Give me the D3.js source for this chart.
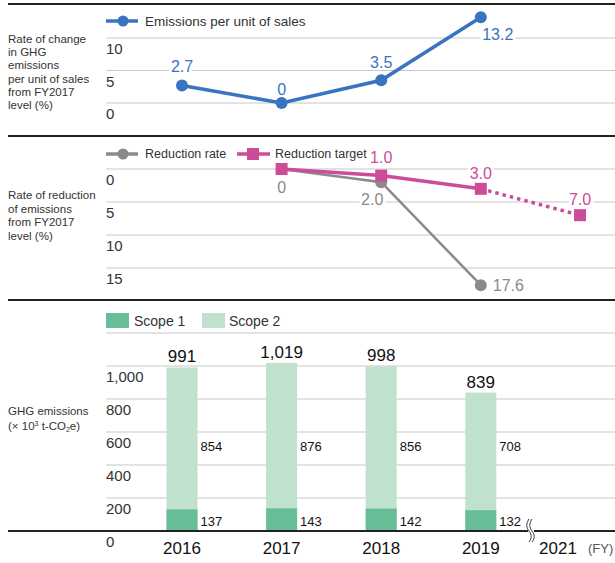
<!DOCTYPE html>
<html>
<head>
<meta charset="utf-8">
<script src="https://cdn.jsdelivr.net/npm/d3@7"></script>
<style>
  body { margin: 0; background: #fff; }
  svg { font-family: "Liberation Sans", Arial, sans-serif; }
</style>
</head>
<body>
<div id="chart"></div>
<script>
// ---- data ----
const years = ["2016", "2017", "2018", "2019", "2021"];
const yearLabels = ["2016", "2017", "2018", "2019", "2021"];

const salesYears = ["2016", "2017", "2018", "2019"];
const salesValues = [2.7, 0, 3.5, 13.2];
const salesTicks = [0, 5, 10];

const rateYears = ["2017", "2018", "2019"];
const rateValues = [0, 2.0, 17.6];
const targetYears = ["2017", "2018", "2019", "2021"];
const targetValues = [0, 1.0, 3.0, 7.0];
const reductionTicks = [0, 5, 10, 15];

const barYears = ["2016", "2017", "2018", "2019"];
const scope1 = [137, 143, 142, 132];
const scope2 = [854, 876, 856, 708];
const totals = [991, 1019, 998, 839];
const ghgTicks = [0, 200, 400, 600, 800, 1000];

const blue = "#3a73c0", gray = "#8a8a8a", pink = "#cc4c98";
const green1 = "#66bd96", green2 = "#bfe1cd", grid = "#c8c8c8", ink = "#222";

const W = 615, H = 563;
const svg = d3.select("#chart").append("svg").attr("width", W).attr("height", H);

const x = d3.scalePoint().domain(years).range([182, 580]);
// put 2016..2019 evenly spaced, 2021 after the break
const xPos = d => d === "2021" ? 580 : 182 + (+d - 2016) * 99.6;

const fmt = d3.format(",");

// panel separators
[[4, 2], [136, 2], [300, 2]].forEach(([yy, w]) => {
  svg.append("line").attr("x1", 8).attr("x2", W).attr("y1", yy).attr("y2", yy)
    .attr("stroke", ink).attr("stroke-width", w);
});

function leftLabel(lines, y0, size, lh) {
  const t = svg.append("text").attr("x", 8).attr("y", y0)
    .attr("font-size", size).attr("fill", "#333");
  lines.forEach((l, i) => t.append("tspan").attr("x", 8).attr("dy", i ? lh : 0).text(l));
  return t;
}

function gridAxis(scale, ticks, fmtf, size) {
  const g = svg.append("g");
  ticks.forEach(v => {
    g.append("line").attr("x1", 106).attr("x2", W)
      .attr("y1", scale(v)).attr("y2", scale(v))
      .attr("stroke", grid).attr("stroke-width", 1.2);
  });
  ticks.forEach(v => {
    g.append("text").attr("x", 106).attr("y", scale(v) + 16)
      .attr("font-size", size).attr("fill", "#333").text(fmtf(v));
  });
  return g;
}

// ---- panel 1: emissions per unit of sales ----
const y1 = d3.scaleLinear().domain([0, 10]).range([103, 38]);
gridAxis(y1, salesTicks, d => d, 15);
leftLabel(["Rate of change", "in GHG", "emissions", "per unit of sales", "from FY2017", "level (%)"], 43, 11.5, 13.2);

svg.append("line").attr("x1", 106).attr("x2", 138).attr("y1", 21).attr("y2", 21)
  .attr("stroke", blue).attr("stroke-width", 3.5);
svg.append("circle").attr("cx", 123).attr("cy", 21).attr("r", 5.5).attr("fill", blue);
svg.append("text").attr("x", 145).attr("y", 26).attr("font-size", 13.5).attr("fill", "#333")
  .text("Emissions per unit of sales");

const salesPts = salesYears.map((d, i) => ({ x: xPos(d), y: y1(salesValues[i]), v: salesValues[i] }));
svg.append("path").datum(salesPts)
  .attr("d", d3.line().x(d => d.x).y(d => d.y))
  .attr("fill", "none").attr("stroke", blue).attr("stroke-width", 3.5);
svg.selectAll(".sp").data(salesPts).enter().append("circle")
  .attr("cx", d => d.x).attr("cy", d => d.y).attr("r", 6).attr("fill", blue);

const salesLab = [[0, -13], [0, -8], [0, -12], [17, 23]];
salesPts.forEach((d, i) => {
  const t = svg.append("text").attr("x", d.x + salesLab[i][0]).attr("y", d.y + salesLab[i][1])
    .attr("text-anchor", "middle").attr("font-size", 16).attr("fill", blue)
    .text(d.v % 1 === 0 && d.v === 0 ? "0" : d.v.toFixed(1));
  if (i === 0 || i === 3) t.attr("stroke", "#fff").attr("stroke-width", 6).attr("paint-order", "stroke");
});

// ---- panel 2: reduction rate ----
const y2 = d3.scaleLinear().domain([0, 15]).range([169, 268]);
gridAxis(y2, reductionTicks, d => d, 15);
leftLabel(["Rate of reduction", "of emissions", "from FY2017", "level (%)"], 199, 11.5, 13.5);

svg.append("line").attr("x1", 106).attr("x2", 138).attr("y1", 154).attr("y2", 154)
  .attr("stroke", gray).attr("stroke-width", 3.5);
svg.append("circle").attr("cx", 123).attr("cy", 154).attr("r", 5.5).attr("fill", gray);
svg.append("text").attr("x", 145).attr("y", 158).attr("font-size", 12.5).attr("fill", "#333").text("Reduction rate");
svg.append("line").attr("x1", 237).attr("x2", 270).attr("y1", 154).attr("y2", 154)
  .attr("stroke", pink).attr("stroke-width", 3.5);
svg.append("rect").attr("x", 247).attr("y", 148).attr("width", 12).attr("height", 12).attr("fill", pink);
svg.append("text").attr("x", 275).attr("y", 158).attr("font-size", 12.5).attr("fill", "#333").text("Reduction target");

const ratePts = rateYears.map((d, i) => ({ x: xPos(d), y: y2(rateValues[i]), v: rateValues[i] }));
const tgtPts = targetYears.map((d, i) => ({ x: xPos(d), y: y2(targetValues[i]), v: targetValues[i] }));
const line = d3.line().x(d => d.x).y(d => d.y);

svg.append("path").datum(ratePts).attr("d", line)
  .attr("fill", "none").attr("stroke", gray).attr("stroke-width", 2.5);
svg.selectAll(".rp").data(ratePts).enter().append("circle")
  .attr("cx", d => d.x).attr("cy", d => d.y).attr("r", 6).attr("fill", gray);

svg.append("path").datum(tgtPts.slice(0, 3)).attr("d", line)
  .attr("fill", "none").attr("stroke", pink).attr("stroke-width", 3.5);
svg.append("path").datum(tgtPts.slice(2)).attr("d", line)
  .attr("fill", "none").attr("stroke", pink).attr("stroke-width", 3.5)
  .attr("stroke-dasharray", "3.5,4");
svg.selectAll(".tp").data(tgtPts).enter().append("rect")
  .attr("x", d => d.x - 6).attr("y", d => d.y - 6)
  .attr("width", 12).attr("height", 12).attr("fill", pink);

// labels
svg.append("text").attr("x", ratePts[0].x).attr("y", ratePts[0].y + 24).attr("text-anchor", "middle")
  .attr("font-size", 16).attr("fill", gray).text("0");
svg.append("text").attr("x", ratePts[1].x - 9).attr("y", ratePts[1].y + 23).attr("text-anchor", "middle")
  .attr("font-size", 16).attr("fill", gray).attr("stroke", "#fff").attr("stroke-width", 6)
  .attr("paint-order", "stroke").text(rateValues[1].toFixed(1));
svg.append("text").attr("x", ratePts[2].x + 12).attr("y", ratePts[2].y + 6)
  .attr("font-size", 16).attr("fill", gray).text(rateValues[2].toFixed(1));

const tgtLab = [null, [0, -13], [0, -10], [0, -10]];
tgtPts.forEach((d, i) => {
  if (!tgtLab[i]) return;
  svg.append("text").attr("x", d.x + tgtLab[i][0]).attr("y", d.y + tgtLab[i][1])
    .attr("text-anchor", "middle").attr("font-size", 16).attr("fill", pink)
    .attr("stroke", "#fff").attr("stroke-width", 6).attr("paint-order", "stroke")
    .text(d.v.toFixed(1));
});

// ---- panel 3: GHG emissions bars ----
const y3 = d3.scaleLinear().domain([0, 1200]).range([531, 333]);
gridAxis(y3, [200, 400, 600, 800, 1000, 1200].slice(0, 5), fmt, 15);
svg.append("line").attr("x1", 106).attr("x2", W).attr("y1", y3(1200)).attr("y2", y3(1200))
  .attr("stroke", grid).attr("stroke-width", 1.2);
svg.append("text").attr("x", 106).attr("y", y3(0) + 16).attr("font-size", 15).attr("fill", "#333").text("0");
leftLabel(["GHG emissions"], 415, 11.5, 13);
const u = svg.append("text").attr("x", 8).attr("y", 430).attr("font-size", 11.5).attr("fill", "#333");
u.append("tspan").text("(× 10");
u.append("tspan").attr("font-size", 7).attr("dy", -4).text("3");
u.append("tspan").attr("dy", 4).text(" t-CO");
u.append("tspan").attr("font-size", 7).attr("dy", 2).text("2");
u.append("tspan").attr("dy", -2).text("e)");

// legend
svg.append("rect").attr("x", 106).attr("y", 313).attr("width", 23).attr("height", 15).attr("fill", green1);
svg.append("text").attr("x", 134).attr("y", 326).attr("font-size", 14).attr("fill", "#333").text("Scope 1");
svg.append("rect").attr("x", 202).attr("y", 313).attr("width", 23).attr("height", 15).attr("fill", green2);
svg.append("text").attr("x", 229).attr("y", 326).attr("font-size", 14).attr("fill", "#333").text("Scope 2");

const bw = 31;
barYears.forEach((yr, i) => {
  const cx = xPos(yr);
  svg.append("rect").attr("x", cx - bw / 2).attr("y", y3(totals[i]))
    .attr("width", bw).attr("height", y3(0) - y3(totals[i])).attr("fill", green2);
  svg.append("rect").attr("x", cx - bw / 2).attr("y", y3(scope1[i]) + 1)
    .attr("width", bw).attr("height", y3(0) - y3(scope1[i]) - 1).attr("fill", green1);
  svg.append("text").attr("x", cx).attr("y", y3(totals[i]) - 5).attr("text-anchor", "middle")
    .attr("font-size", 17).attr("fill", "#111").text(fmt(totals[i]));
  svg.append("text").attr("x", cx + bw / 2 + 3).attr("y", 451)
    .attr("font-size", 13).attr("fill", "#111").text(scope2[i]);
  svg.append("text").attr("x", cx + bw / 2 + 3).attr("y", 526)
    .attr("font-size", 13).attr("fill", "#111").text(scope1[i]);
});

// baseline with break
svg.append("line").attr("x1", 8).attr("x2", W).attr("y1", y3(0)).attr("y2", y3(0))
  .attr("stroke", ink).attr("stroke-width", 2);
svg.append("rect").attr("x", 528).attr("y", 518).attr("width", 6).attr("height", 25).attr("fill", "#fff");
[0, 3].forEach(dx => {
  svg.append("path")
    .attr("d", `M${529 + dx},519 C${526 + dx},524 ${526 + dx},527 ${529 + dx},531 C${532 + dx},535 ${532 + dx},538 ${529 + dx},542`)
    .attr("fill", "none").attr("stroke", ink).attr("stroke-width", 0.9);
});

// x labels
years.forEach((yr, i) => {
  svg.append("text").attr("x", yr === "2021" ? 558 : xPos(yr)).attr("y", 554)
    .attr("text-anchor", "middle").attr("font-size", 17).attr("fill", "#111").text(yearLabels[i]);
});
svg.append("text").attr("x", 588).attr("y", 553).attr("font-size", 13).attr("fill", "#555").text("(FY)");
</script>
</body>
</html>
